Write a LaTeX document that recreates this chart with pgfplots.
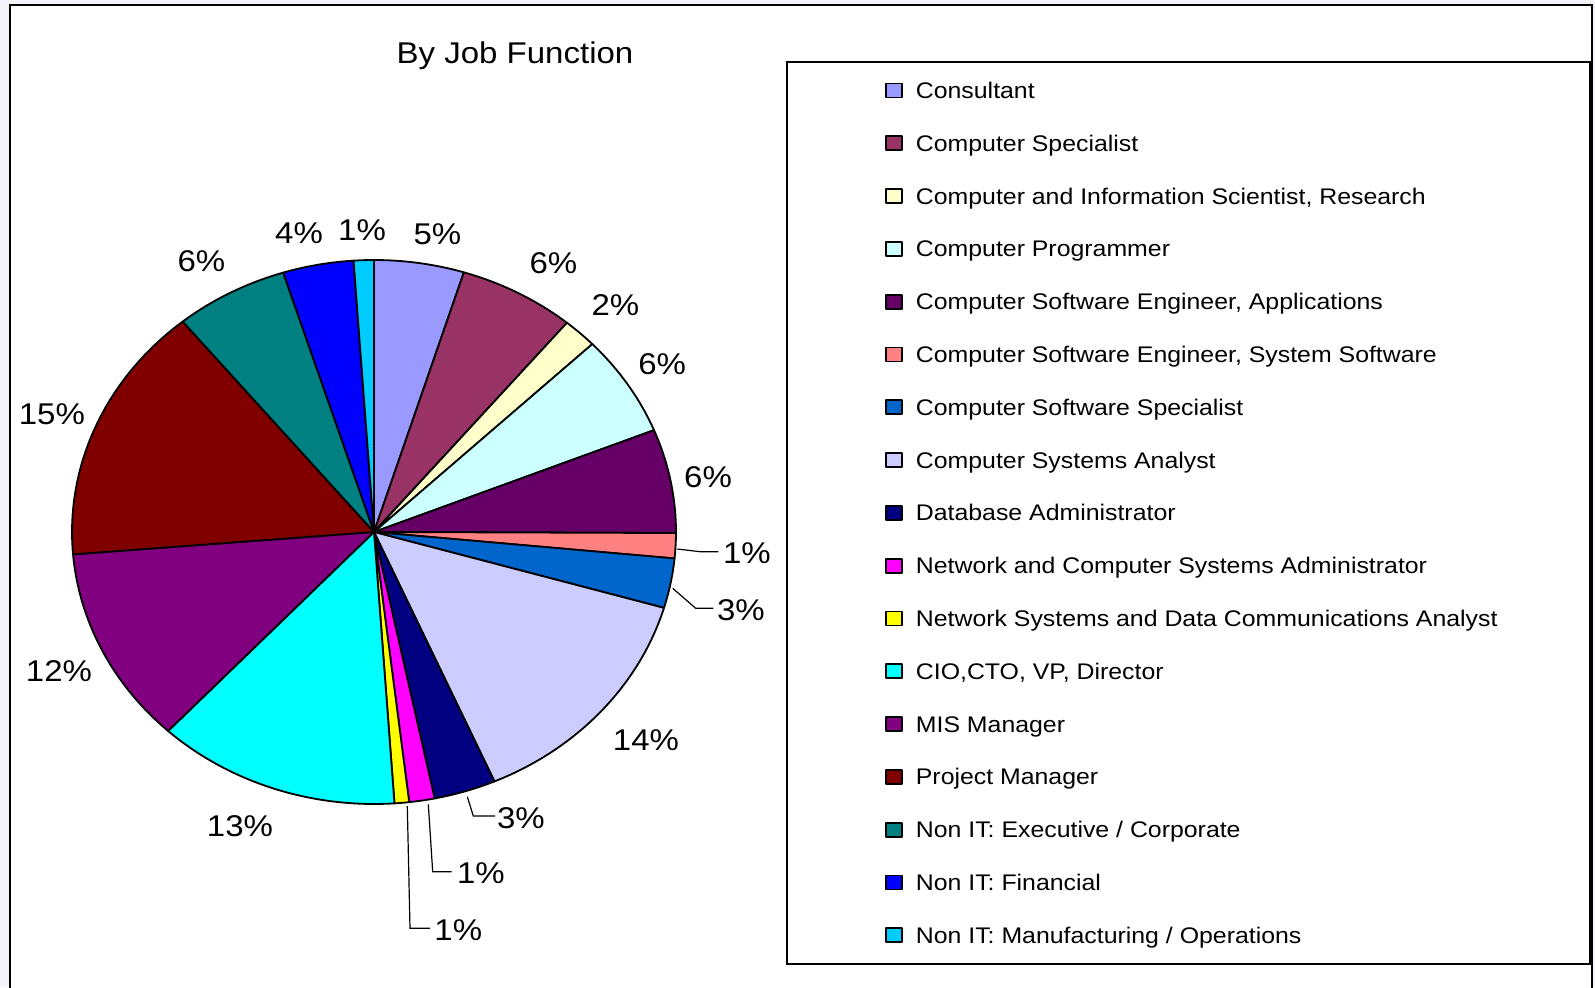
\documentclass[border=0pt]{standalone}
\usepackage{fontspec}
\setmainfont{Liberation Sans}[FakeStretch=1.1]
\usepackage{pgfplots}
\pgfplotsset{compat=1.18}
\definecolor{cA}{HTML}{9999FF}
\definecolor{cB}{HTML}{993366}
\definecolor{cC}{HTML}{FFFFCC}
\definecolor{cD}{HTML}{CCFFFF}
\definecolor{cE}{HTML}{660066}
\definecolor{cF}{HTML}{FF8080}
\definecolor{cG}{HTML}{0066CC}
\definecolor{cH}{HTML}{CCCCFF}
\definecolor{cI}{HTML}{000080}
\definecolor{cJ}{HTML}{FF00FF}
\definecolor{cK}{HTML}{FFFF00}
\definecolor{cL}{HTML}{00FFFF}
\definecolor{cM}{HTML}{800080}
\definecolor{cN}{HTML}{800000}
\definecolor{cO}{HTML}{008080}
\definecolor{cP}{HTML}{0000FF}
\definecolor{cQ}{HTML}{00CCFF}
\definecolor{bgc}{HTML}{F3F3F9}
\begin{document}
\begin{tikzpicture}
\path[use as bounding box] (0,0) rectangle (797.5pt,493.5pt);
\fill[bgc] (0,0) rectangle (797.5pt,493.5pt);
\begin{scope}[shift={(0pt,493.5pt)}, x=0.5pt, y=-0.5pt]
\fill[white] (10,5) rectangle (1592,1010);
\draw[line width=1pt] (10,1010) -- (10,5) -- (1592,5) -- (1592,1010);
\draw[line width=0.8pt] (787,62) rectangle (1590,964);
\end{scope}
\begin{axis}[
  at={(187pt,227.5pt)}, anchor=center,
  scale only axis, width=302pt, height=272pt,
  xmin=-1, xmax=1, ymin=-1, ymax=1,
  hide axis, clip=false,
  legend cell align=left,
  legend image code/.code={\draw[#1] (0pt,-2.5pt) rectangle (8pt,4.5pt);},
  legend style={draw=none, fill=none, inner sep=0pt,
    at={(axis description cs:1.3455,1.3306)}, anchor=north west,
    font=\fontsize{11.3}{13}\selectfont, row sep=14.4pt, column sep=6.5pt,
    nodes={inner sep=0pt, text height=9pt, text depth=3pt}},
  legend entries={{Consultant},{Computer Specialist},{Computer and Information Scientist, Research},{Computer Programmer},{Computer Software Engineer, Applications},{Computer Software Engineer, System Software},{Computer Software Specialist},{Computer Systems Analyst},{Database Administrator},{Network and Computer Systems Administrator},{Network Systems and Data Communications Analyst},{CIO,CTO, VP, Director},{MIS Manager},{Project Manager},{Non IT: Executive / Corporate},{Non IT: Financial},{Non IT: Manufacturing / Operations}},
]
\def\cum{0}
\pgfplotsforeachungrouped \v/\c in {4.81/cA, 6.22/cB, 1.83/cC, 6.03/cD, 6.17/cE, 1.49/cF, 2.95/cG, 13.97/cH, 3.31/cI, 1.36/cJ, 0.78/cK, 13.02/cL, 11.75/cM, 15.39/cN, 6.06/cO, 3.78/cP, 1.08/cQ}{%
  \pgfmathsetmacro\angA{90-3.6*\cum}%
  \pgfmathsetmacro\angB{90-3.6*(\cum+\v)}%
  \edef\next{\noexpand\addplot[fill=\c, draw=black, line width=0.9pt, line join=round, domain=\angB:\angA, samples=60] ({cos(x)},{sin(x)}) -- (axis cs:0,0) -- cycle;}%
  \next
  \pgfmathsetmacro\cum{\cum+\v}%
}
\end{axis}
\begin{scope}[shift={(0pt,493.5pt)}, x=0.5pt, y=-0.5pt]
\node[font=\fontsize{15}{18}\selectfont, anchor=base] at (515,63.4) {By Job Function};
\tikzset{lb/.style={font=\fontsize{15}{18}\selectfont, inner sep=0pt}}
\node[lb] at (437.4,234) {5\%};
\node[lb] at (553.4,263.5) {6\%};
\node[lb] at (615.4,305.2) {2\%};
\node[lb] at (662.2,364.2) {6\%};
\node[lb] at (708,477) {6\%};
\node[lb] at (646,740.5) {14\%};
\node[lb] at (240,826) {13\%};
\node[lb] at (59,671.4) {12\%};
\node[lb] at (51.9,414) {15\%};
\node[lb] at (201.4,261.4) {6\%};
\node[lb] at (299,233) {4\%};
\node[lb] at (362,230) {1\%};
\draw[line width=0.6pt] (677.3,549) -- (700,551.7) -- (718.3,551.7);
\node[lb, anchor=west] at (722.7,552.7) {1\%};
\draw[line width=0.6pt] (672.7,588.3) -- (695.7,608.3) -- (713.3,608.3);
\node[lb, anchor=west] at (716.7,610) {3\%};
\draw[line width=0.6pt] (467.3,796.7) -- (473.3,816) -- (495,816);
\node[lb, anchor=west] at (496.7,818.3) {3\%};
\draw[line width=0.6pt] (428.3,804.3) -- (432.7,871.7) -- (451.7,871.7);
\node[lb, anchor=west] at (456.7,873.3) {1\%};
\draw[line width=0.6pt] (407.3,806) -- (410,928.3) -- (430,928.3);
\node[lb, anchor=west] at (434,930) {1\%};
\end{scope}
\end{tikzpicture}
\end{document}
